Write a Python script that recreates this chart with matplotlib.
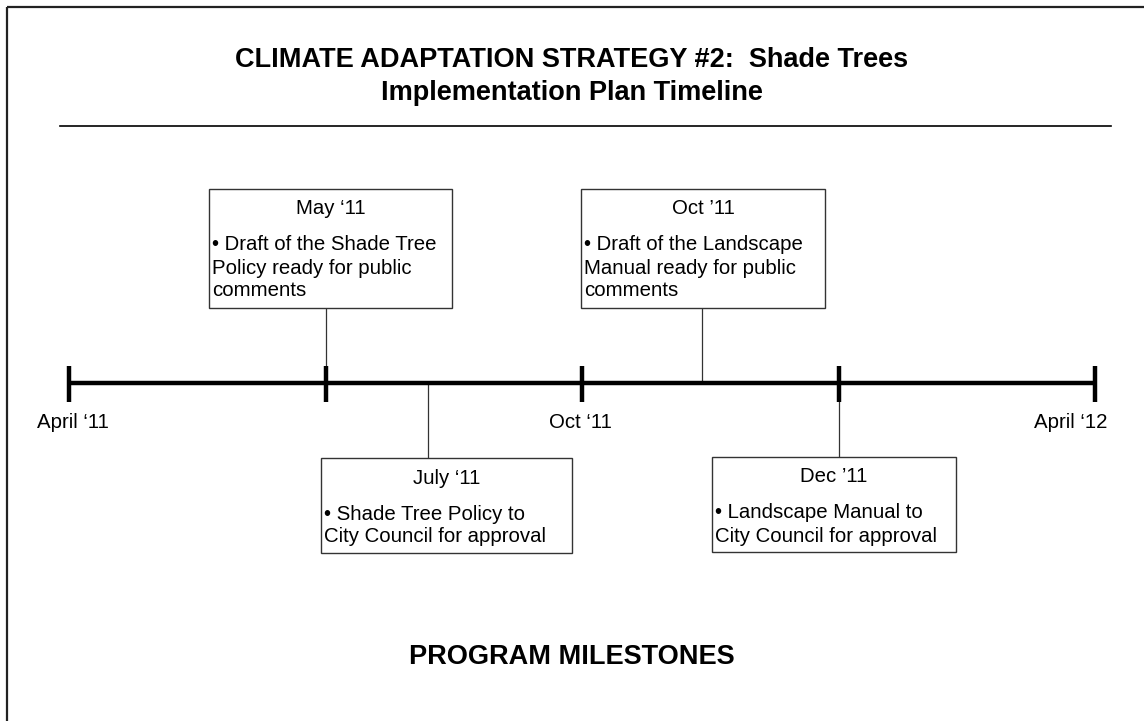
import matplotlib
matplotlib.use("Agg")
import matplotlib.pyplot as plt
from matplotlib.patches import Rectangle

plt.rcParams['font.family'] = ['Liberation Sans', 'DejaVu Sans']

# ---- data ----
title_lines = ["CLIMATE ADAPTATION STRATEGY #2:  Shade Trees", "Implementation Plan Timeline"]
footer = "PROGRAM MILESTONES"
tick_months = [0, 3, 6, 9, 12]              # months after April 2011
axis_labels = ["April \u201811", "Oct \u201811", "April \u201812"]
axis_label_months = [0, 6, 12]
milestone_dates = ["May \u201811", "July \u201811", "Oct \u201911", "Dec \u201911"]
milestone_text = [
    ["\u2022 Draft of the Shade Tree", "Policy ready for public", "comments"],
    ["\u2022 Shade Tree Policy to", "City Council for approval"],
    ["\u2022 Draft of the Landscape", "Manual ready for public", "comments"],
    ["\u2022 Landscape Manual to", "City Council for approval"],
]
milestone_anchor = [3.0, 4.2, 7.4, 9.0]      # where connector meets the timeline (months)
milestone_side = ["above", "below", "above", "below"]

# ---- layout ----
W, H = 1144, 721
fig = plt.figure(figsize=(W / 100, H / 100), dpi=100)
ax = fig.add_axes([0, 0, 1, 1])
X0, X1 = 69, 1095
px_per_month = (X1 - X0) / 12.0
ax.set_xlim(-X0 / px_per_month, (W - X0) / px_per_month)
ax.set_ylim(H, 0)
ax.axis('off')

def m(px):
    return (px - X0) / px_per_month

# border (left and top)
ax.plot([m(7), m(7)], [H + 5, 7], color='#222222', lw=1.6, solid_capstyle='butt')
ax.plot([m(7), m(W + 5)], [7, 7], color='#222222', lw=1.6, solid_capstyle='butt')

# title
ax.text(m(572), 60, title_lines[0], ha='center', va='center', fontsize=19.5, fontweight='bold')
ax.text(m(572), 93, title_lines[1], ha='center', va='center', fontsize=19.5, fontweight='bold')
ax.plot([m(60), m(1111)], [126, 126], color='black', lw=1.2)

# timeline
axis_y = 383
ax.plot([tick_months[0], tick_months[-1]], [axis_y, axis_y], color='black', lw=3.2, solid_capstyle='butt')
for t in tick_months:
    ax.plot([t, t], [366, 402], color='black', lw=3.2, solid_capstyle='butt')
label_off = {0: 4, 6: -2, 12: -24}
for lab, mm in zip(axis_labels, axis_label_months):
    ax.text(mm + label_off[mm] / px_per_month, 423, lab, ha='center', va='center', fontsize=14.7)

# milestone boxes
box_geom = {  # (left px, right px, top px, bottom px)
    0: (209, 452, 189, 308),
    1: (321, 572, 458, 553),
    2: (581, 825, 189, 308),
    3: (712, 956, 457, 552),
}
for i, (date, lines, anc, side) in enumerate(zip(milestone_dates, milestone_text, milestone_anchor, milestone_side)):
    l, r, top, bot = box_geom[i]
    left, right = m(l), m(r)
    cx = (left + right) / 2
    ax.add_patch(Rectangle((left, top), right - left, bot - top, fill=True,
                           facecolor='white', edgecolor='#333333', lw=1.0, zorder=3))
    if side == 'above':
        ax.plot([anc, anc], [bot, axis_y], color='#333333', lw=0.9, zorder=1)
    else:
        ax.plot([anc, anc], [axis_y, top], color='#333333', lw=0.9, zorder=1)
    ax.text(cx, top + 20, date, ha='center', va='center', fontsize=14.7, zorder=4)
    for j, ln in enumerate(lines):
        ax.text(left + 3 / px_per_month, top + 56 + 23 * j, ln, ha='left', va='center',
                fontsize=14.7, zorder=4)

# footer
ax.text(m(572), 657, footer, ha='center', va='center', fontsize=19.5, fontweight='bold')

fig.savefig('out.png', dpi=100, facecolor='white')
